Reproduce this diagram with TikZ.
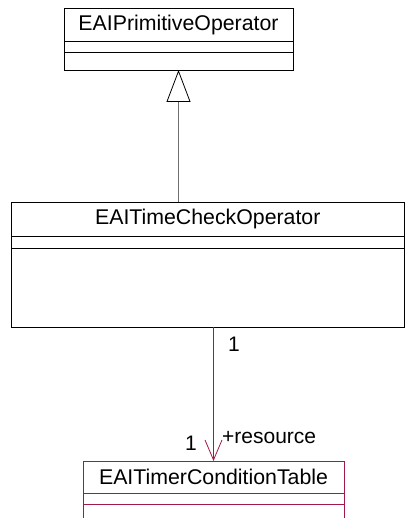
\documentclass[tikz,border=0pt]{standalone}
\usepackage{fontspec}
\setmainfont{Liberation Sans}
\usetikzlibrary{arrows.meta,positioning}
\definecolor{assoc}{HTML}{A3174B}
\definecolor{genline}{HTML}{707070}

\begin{document}
\begin{tikzpicture}[x=1pt, y=-1pt,
    uml/.style={draw, line width=0.8pt, inner sep=0pt, outer sep=0pt, font=\fontsize{21.3}{25}\selectfont},
    part/.style={uml, minimum height=#1},
    lbl/.style={inner sep=0pt, font=\fontsize{21}{25}\selectfont}]
      \useasboundingbox (0,0) rectangle (405,518);

      % EAIPrimitiveOperator
      \node[part=33pt, minimum width=229pt] (prim) at (178.5,24.5) {EAIPrimitiveOperator};
      \node[part=11pt, minimum width=229pt, below=0pt of prim] (primAttr) {};
      \node[part=18pt, minimum width=229pt, below=0pt of primAttr] (primOps) {};

      % EAITimeCheckOperator
      \node[part=34pt, minimum width=393.5pt] (tc) at (207.75,219) {EAITimeCheckOperator};
      \node[part=12pt, minimum width=393.5pt, below=0pt of tc] (tcAttr) {};
      \node[part=79pt, minimum width=393.5pt, below=0pt of tcAttr] (tcOps) {};

      % EAITimerConditionTable
      \node[part=32pt, minimum width=261pt, draw=assoc] (table) at (213.5,477) {EAITimerConditionTable};
      \node[part=11pt, minimum width=261pt, draw=assoc, below=0pt of table] (tableAttr) {};
      \node[part=30pt, minimum width=261pt, draw=assoc, below=0pt of tableAttr] (tableOps) {};

      % generalization
      \draw[genline, line width=0.8pt, -{Triangle[open, length=32pt, width=24pt, color=black]}]
        (prim.south |- tc.north) -- (primOps.south);

      % association
      \draw[assoc, line width=0.8pt, -{Straight Barb[length=20pt, width=17pt]}]
        (table.north |- tcOps.south) -- (table.north);
      \node[lbl] (multTop) at (234,344) {1};
      \node[lbl] (multBot) at (191,443) {1};
      \node[lbl, anchor=west] (role) at (222,438) {+resource};
    \end{tikzpicture}
\end{document}
